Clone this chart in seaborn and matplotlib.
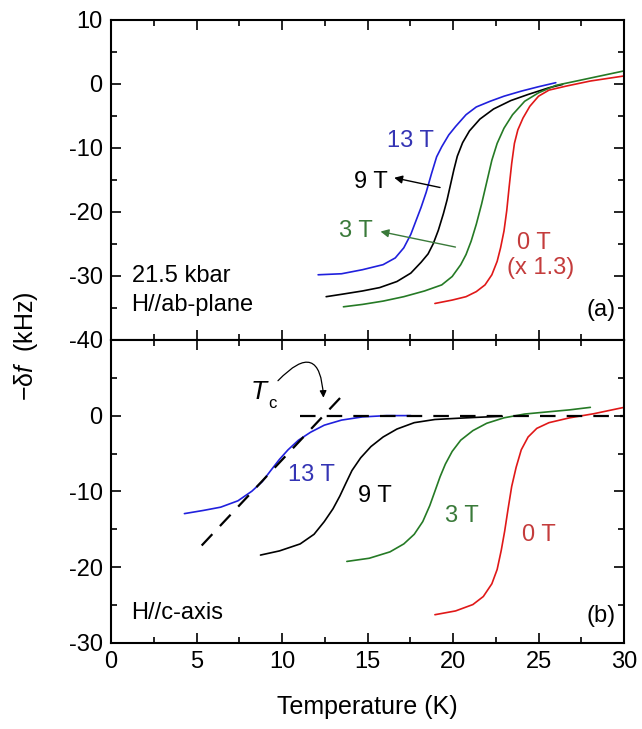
import numpy as np
import pandas as pd
import matplotlib
matplotlib.use('Agg')
import matplotlib.pyplot as plt
from matplotlib.ticker import MultipleLocator
import seaborn as sns

# 数据
fields = ['13 T', '9 T', '3 T', '0 T']

# (a) H//ab-plane
t_ab_13 = [12.11, 13.48, 14.70, 15.91, 16.62, 17.12, 17.53, 17.83, 18.13, 18.43, 18.74, 19.04,
           19.34, 19.75, 20.15, 20.76, 21.36, 22.17, 22.98, 23.99, 25.0, 26.01]
v_ab_13 = [-29.84, -29.68, -29.05, -28.26, -27.21, -25.63, -23.53, -21.42, -19.32, -16.95, -14.05,
           -11.42, -9.84, -8.0, -6.68, -4.84, -3.63, -2.74, -1.95, -1.16, -0.47, 0.16]
t_ab_9 = [12.58, 13.48, 14.70, 15.71, 16.72, 17.53, 18.13, 18.54, 18.84, 19.14, 19.44, 19.65,
          19.85, 20.05, 20.25, 20.56, 20.96, 21.57, 22.37, 23.38, 24.39, 25.61, 26.41]
v_ab_9 = [-33.26, -32.89, -32.37, -31.84, -30.89, -29.58, -27.89, -26.58, -25.0, -22.89, -20.26,
          -18.16, -15.79, -13.42, -11.32, -9.21, -7.37, -5.53, -3.95, -2.63, -1.68, -0.63, -0.11]
t_ab_3 = [13.59, 14.70, 15.91, 17.12, 18.33, 19.34, 19.95, 20.45, 20.76, 21.06, 21.36, 21.67,
          21.97, 22.27, 22.58, 22.98, 23.48, 24.19, 25.0, 26.01, 27.22, 28.43, 30.0]
v_ab_3 = [-34.84, -34.47, -33.95, -33.26, -32.37, -31.42, -30.11, -28.26, -26.68, -24.58, -21.95,
          -18.79, -15.37, -11.95, -9.32, -6.95, -4.84, -2.74, -1.42, -0.26, 0.42, 1.11, 2.0]
t_ab_0 = [18.94, 19.95, 20.76, 21.36, 21.87, 22.27, 22.58, 22.78, 22.98, 23.14, 23.28, 23.43,
          23.59, 23.79, 24.09, 24.49, 25.0, 25.61, 26.62, 28.03, 30.0]
v_ab_0 = [-34.32, -33.79, -33.26, -32.47, -31.42, -29.84, -27.74, -25.63, -23.0, -19.84, -16.16,
          -12.47, -9.32, -7.21, -5.37, -3.53, -1.95, -1.0, -0.37, 0.42, 1.21]

# (b) H//c-axis
t_c_13 = [4.29, 5.40, 6.41, 7.42, 8.23, 8.84, 9.34, 9.85, 10.35, 10.96, 11.67, 12.47, 13.48,
          14.70, 16.11, 17.53]
v_c_13 = [-12.93, -12.51, -12.08, -11.24, -9.98, -8.72, -7.24, -5.77, -4.51, -3.24, -2.19, -1.26,
          -0.59, -0.17, 0.0, 0.0]
t_c_9 = [8.74, 9.85, 11.06, 11.87, 12.47, 12.98, 13.38, 13.73, 14.09, 14.60, 15.20, 15.91, 16.72,
         17.73, 18.94, 20.35, 21.57, 22.88]
v_c_9 = [-18.4, -17.85, -16.93, -15.66, -13.98, -12.29, -10.61, -8.93, -7.24, -5.56, -4.08, -2.82,
         -1.77, -0.93, -0.51, -0.34, -0.21, -0.08]
t_c_3 = [13.79, 15.10, 16.31, 17.12, 17.73, 18.23, 18.64, 18.94, 19.24, 19.55, 19.95, 20.45,
         21.16, 21.97, 22.98, 24.19, 25.61, 26.82, 28.03]
v_c_3 = [-19.24, -18.82, -17.98, -16.93, -15.66, -13.98, -11.87, -9.98, -8.08, -6.40, -4.72, -3.24,
         -1.98, -1.01, -0.29, 0.21, 0.51, 0.76, 1.09]
t_c_0 = [18.94, 20.15, 21.16, 21.77, 22.27, 22.58, 22.82, 23.02, 23.22, 23.43, 23.69, 23.99,
         24.39, 24.90, 25.61, 26.82, 28.23, 30.0]
v_c_0 = [-26.27, -25.77, -24.93, -23.87, -22.19, -20.30, -17.77, -15.24, -12.29, -9.35, -6.82,
         -4.51, -2.82, -1.68, -0.93, -0.29, 0.25, 1.09]

# Tc 作图辅助线
tc_flat_t = [11.06, 30.0]
tc_flat_v = [0.0, 0.0]
tc_slope_t = [5.30, 13.79]
tc_slope_v = [-17.14, 3.28]

line_colors = {'13 T': '#2020dd', '9 T': '#000000', '3 T': '#257a25', '0 T': '#e01818'}
text_colors = {'13 T': '#3434b4', '9 T': '#000000', '3 T': '#3a7a3a', '0 T': '#c43c3c'}


def make_df(ts, vs):
    frames = []
    for name, t, v in zip(fields, ts, vs):
        frames.append(pd.DataFrame({'T': t, 'v': v, 'field': name}))
    return pd.concat(frames, ignore_index=True)


df_ab = make_df([t_ab_13, t_ab_9, t_ab_3, t_ab_0], [v_ab_13, v_ab_9, v_ab_3, v_ab_0])
df_c = make_df([t_c_13, t_c_9, t_c_3, t_c_0], [v_c_13, v_c_9, v_c_3, v_c_0])

sns.set_theme(style='ticks')
plt.rcParams['font.family'] = ['Liberation Sans', 'DejaVu Sans']
plt.rcParams['mathtext.fontset'] = 'custom'
plt.rcParams['mathtext.it'] = 'Liberation Sans:italic'
plt.rcParams['mathtext.rm'] = 'Liberation Sans'
plt.rcParams['axes.unicode_minus'] = False
plt.rcParams['text.color'] = 'black'
plt.rcParams['axes.labelcolor'] = 'black'
fs = 17

fig, (ax_a, ax_b) = plt.subplots(2, 1, sharex=True, figsize=(6.42, 7.29), dpi=100,
                                 gridspec_kw=dict(height_ratios=[320, 303], hspace=0))
fig.subplots_adjust(left=0.173, right=0.972, top=0.973, bottom=0.118)

for ax, df in [(ax_a, df_ab), (ax_b, df_c)]:
    sns.lineplot(data=df, x='T', y='v', hue='field', palette=line_colors, estimator=None,
                 sort=False, legend=False, lw=1.2, ax=ax)
    ax.set_xlim(0, 30)
    ax.xaxis.set_major_locator(MultipleLocator(5))
    ax.xaxis.set_minor_locator(MultipleLocator(2.5))
    ax.yaxis.set_major_locator(MultipleLocator(10))
    ax.yaxis.set_minor_locator(MultipleLocator(5))
    ax.tick_params(which='both', direction='in', top=True, right=True, labelsize=fs,
                   width=1.2, colors='black', pad=6)
    ax.tick_params(which='major', length=7)
    ax.tick_params(which='minor', length=4)
    for s in ax.spines.values():
        s.set_linewidth(1.5)
        s.set_color('black')
    ax.set_xlabel('')
    ax.set_ylabel('')

ax_a.set_ylim(-40, 10)
ax_b.set_ylim(-30, 10)
ax_b.set_yticks([0, -10, -20, -30])
ax_a.tick_params(labelbottom=False)

# 虚线 Tc
ax_b.plot(tc_flat_t, tc_flat_v, color='black', lw=1.6, dashes=(7, 5))
ax_b.plot(tc_slope_t, tc_slope_v, color='black', lw=1.6, dashes=(7, 5))

# (a) 标注
ax_a.text(17.5, -9, '13 T', color=text_colors['13 T'], fontsize=fs, ha='center', va='center')
ax_a.text(15.2, -15.4, '9 T', color='black', fontsize=fs, ha='center', va='center')
ax_a.annotate('', xy=(16.4, -14.6), xytext=(19.4, -16.3),
              arrowprops=dict(arrowstyle='-|>', color='black', lw=1, mutation_scale=12))
ax_a.text(14.3, -23, '3 T', color=text_colors['3 T'], fontsize=fs, ha='center', va='center')
ax_a.annotate('', xy=(15.6, -23), xytext=(20.3, -25.6),
              arrowprops=dict(arrowstyle='-|>', color=text_colors['3 T'], lw=1, mutation_scale=12))
ax_a.text(24.7, -24.8, '0 T', color=text_colors['0 T'], fontsize=fs, ha='center', va='center')
ax_a.text(25.15, -28.8, '(x 1.3)', color=text_colors['0 T'], fontsize=fs, ha='center', va='center')
ax_a.text(1.2, -30, '21.5 kbar', fontsize=fs, ha='left', va='center')
ax_a.text(1.2, -34.6, 'H//ab-plane', fontsize=fs, ha='left', va='center')
ax_a.text(29.5, -35.4, '(a)', fontsize=fs, ha='right', va='center')

# (b) 标注
ax_b.text(11.7, -7.9, '13 T', color=text_colors['13 T'], fontsize=fs, ha='center', va='center')
ax_b.text(15.4, -10.6, '9 T', color='black', fontsize=fs, ha='center', va='center')
ax_b.text(20.5, -13.3, '3 T', color=text_colors['3 T'], fontsize=fs, ha='center', va='center')
ax_b.text(25.0, -15.7, '0 T', color=text_colors['0 T'], fontsize=fs, ha='center', va='center')
ax_b.text(1.2, -26, 'H//c-axis', fontsize=fs, ha='left', va='center')
ax_b.text(29.5, -26.4, '(b)', fontsize=fs, ha='right', va='center')
ax_b.text(8.7, 3.1, '$T$', fontsize=fs + 2, ha='center', va='center')
ax_b.text(9.45, 1.6, 'c', fontsize=12, ha='center', va='center')
ax_b.annotate('', xy=(12.43, 2.0), xytext=(9.65, 4.34),
              arrowprops=dict(arrowstyle='-|>', color='black', lw=0.9, mutation_scale=10,
                              connectionstyle='arc3,rad=-1.2'))

fig.text(0.5725, 0.03, 'Temperature (K)', fontsize=fs + 1, ha='center', va='center')
fig.text(0.04, 1 - 346 / 729, '\u2212\u03b4$f$  (kHz)', fontsize=fs + 1, ha='center',
         va='center', rotation=90)

plt.savefig('out.png', dpi=100)
plt.close()
